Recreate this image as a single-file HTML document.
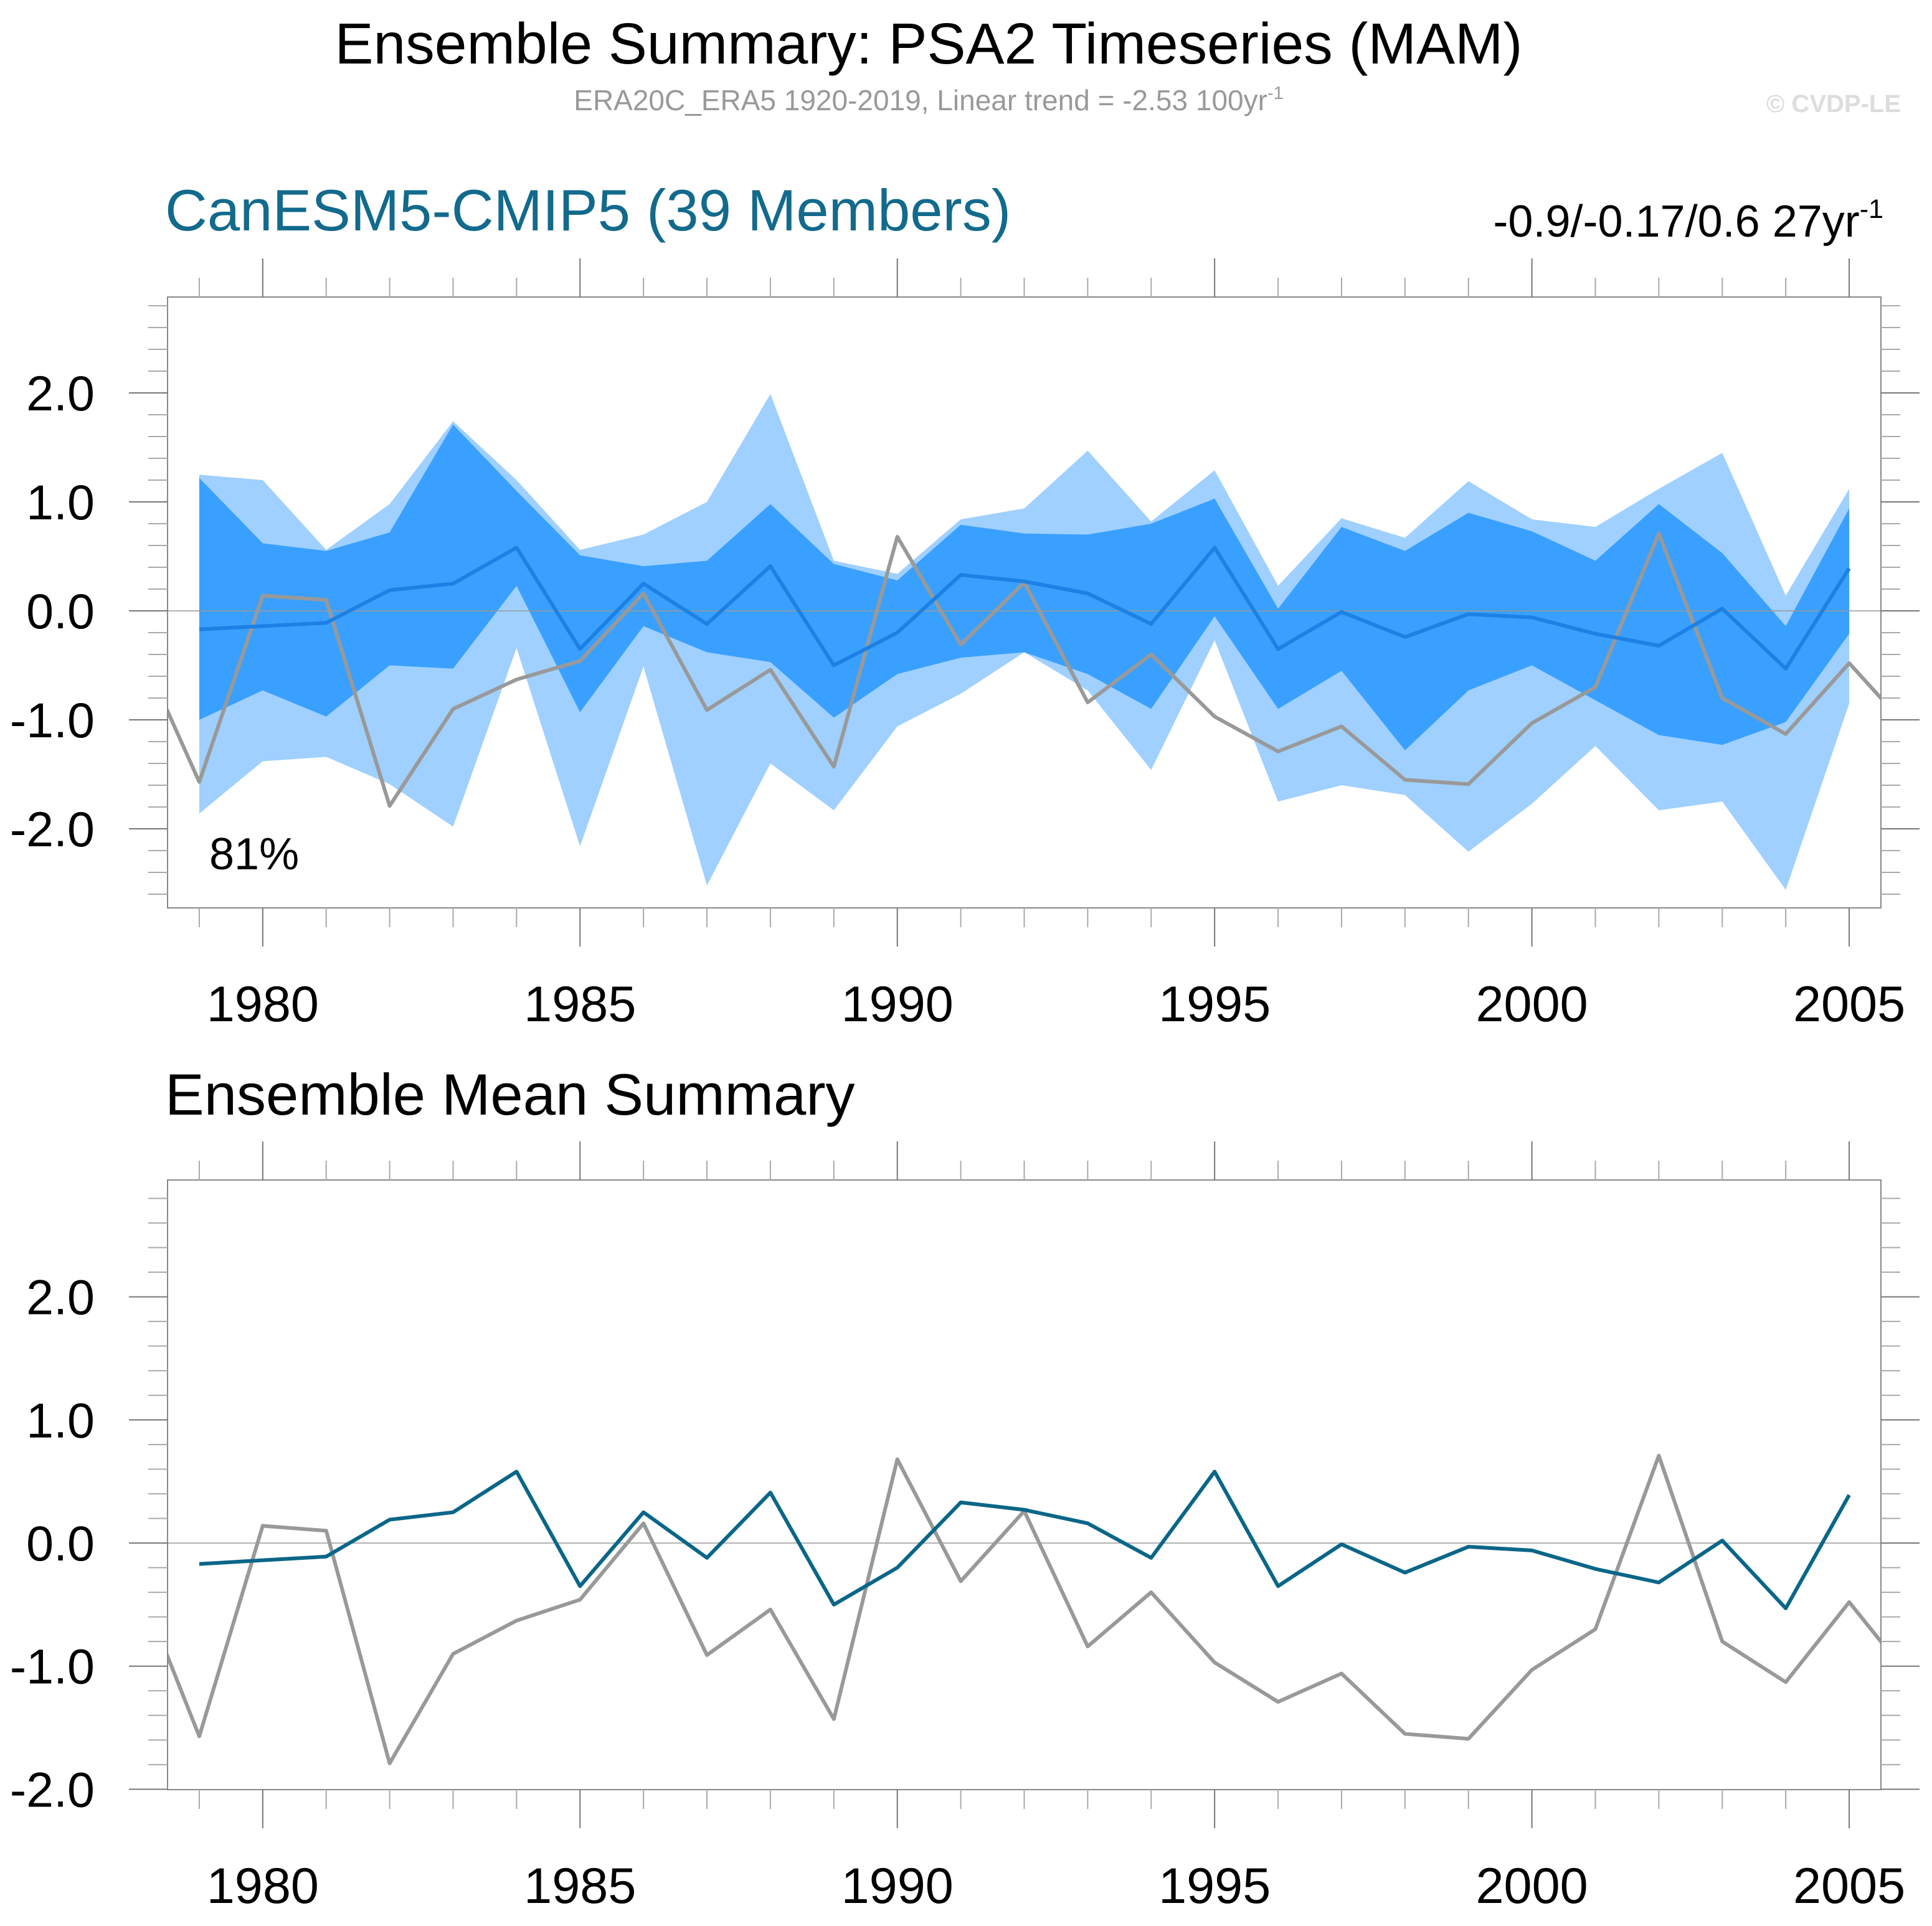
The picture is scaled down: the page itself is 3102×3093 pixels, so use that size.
<!DOCTYPE html>
<html><head><meta charset="utf-8"><style>
html,body{margin:0;padding:0;background:#fff;}
svg{display:block;font-family:"Liberation Sans",Arial,sans-serif;}
</style></head><body>
<svg id="chart" width="3102" height="3093" viewBox="0 0 3102 3093" xmlns="http://www.w3.org/2000/svg">
<text x="1491" y="102" font-size="93" text-anchor="middle" fill="#000">Ensemble Summary: PSA2 Timeseries (MAM)</text>
<text x="1491" y="177" font-size="46" text-anchor="middle" fill="#999">ERA20C_ERA5 1920-2019, Linear trend = -2.53 100yr<tspan dy="-18" font-size="29">-1</tspan></text>
<text x="3052" y="180" font-size="40" font-weight="bold" text-anchor="end" fill="#ddd">© CVDP-LE</text>
<text x="265" y="370" font-size="94" fill="#126a8c">CanESM5-CMIP5 (39 Members)</text>
<text x="3024" y="380" font-size="72" text-anchor="end" fill="#000">-0.9/-0.17/0.6 27yr<tspan dy="-30" font-size="43">-1</tspan></text>
<text x="265" y="1790" font-size="94" fill="#000">Ensemble Mean Summary</text>
<g id="top"></g><g id="bot"></g>
</svg>
<script>
const years=[1979,1980,1981,1982,1983,1984,1985,1986,1987,1988,1989,1990,1991,1992,1993,1994,1995,1996,1997,1998,1999,2000,2001,2002,2003,2004,2005];
const ensMean=[-0.17,-0.14,-0.11,0.19,0.25,0.58,-0.35,0.25,-0.12,0.41,-0.5,-0.2,0.33,0.27,0.16,-0.12,0.58,-0.35,-0.01,-0.24,-0.03,-0.06,-0.21,-0.32,0.02,-0.53,0.39];
const obsYears=[1978,1979,1980,1981,1982,1983,1984,1985,1986,1987,1988,1989,1990,1991,1992,1993,1994,1995,1996,1997,1998,1999,2000,2001,2002,2003,2004,2005,2006];
const obs=[-0.27,-1.57,0.14,0.1,-1.79,-0.9,-0.63,-0.46,0.16,-0.91,-0.54,-1.43,0.68,-0.31,0.26,-0.84,-0.4,-0.97,-1.29,-1.06,-1.55,-1.59,-1.03,-0.7,0.71,-0.8,-1.13,-0.48,-1.12];
const outerUpper=[1.25,1.2,0.56,0.98,1.74,1.2,0.56,0.7,1.0,1.99,0.46,0.34,0.84,0.94,1.47,0.82,1.29,0.23,0.85,0.67,1.19,0.84,0.77,1.12,1.45,0.14,1.12];
const innerUpper=[1.22,0.62,0.55,0.72,1.71,1.1,0.51,0.41,0.46,0.98,0.43,0.28,0.79,0.71,0.7,0.8,1.03,0.02,0.77,0.55,0.9,0.73,0.46,0.98,0.53,-0.14,0.94];
const innerLower=[-1.0,-0.73,-0.97,-0.5,-0.53,0.23,-0.93,-0.14,-0.38,-0.47,-0.98,-0.58,-0.43,-0.38,-0.58,-0.9,-0.05,-0.9,-0.55,-1.28,-0.73,-0.5,-0.82,-1.14,-1.23,-1.02,-0.21];
const outerLower=[-1.86,-1.38,-1.34,-1.59,-1.98,-0.34,-2.16,-0.51,-2.52,-1.4,-1.83,-1.06,-0.76,-0.38,-0.73,-1.46,-0.27,-1.75,-1.6,-1.69,-2.21,-1.77,-1.24,-1.83,-1.75,-2.56,-0.85];
const yTicks=[-2,-1,0,1,2];
const xTicks=[1980,1985,1990,1995,2000,2005];

const NS='http://www.w3.org/2000/svg';
function mk(parent,tag,attrs){const e=document.createElementNS(NS,tag);for(const k in attrs)e.setAttribute(k,attrs[k]);parent.appendChild(e);return e;}
const L=269,R=3020,X0=1978.5,X1=2005.5;
const xs=v=>L+(v-X0)/(X1-X0)*(R-L);

function panel(g,top,bottom,y0px,pxPer,ymin,ymax,band,lineColor,clipId){
  const ys=v=>y0px-v*pxPer;
  const defs=mk(g,'defs',{});
  const cp=mk(defs,'clipPath',{id:clipId});
  mk(cp,'rect',{x:L,y:top,width:R-L,height:bottom-top});
  const plot=mk(g,'g',{'clip-path':'url(#'+clipId+')'});
  if(band){
    const poly=(up,lo,col,name)=>{
      let pts=years.map((y,i)=>xs(y)+','+ys(up[i]));
      for(let i=years.length-1;i>=0;i--)pts.push(xs(years[i])+','+ys(lo[i]));
      const p=mk(plot,'polygon',{points:pts.join(' '),fill:col});
      
      
    };
    poly(outerUpper,outerLower,'#9fd0ff','outer-range-band');
    poly(innerUpper,innerLower,'#3aa0ff','inner-range-band');
  }
  const zl=mk(plot,'line',{x1:L,x2:R,y1:ys(0),y2:ys(0),stroke:'#999','stroke-width':1.5});
  
  
  const ob=mk(plot,'polyline',{points:obsYears.map((y,i)=>xs(y)+','+ys(obs[i])).join(' '),fill:'none',stroke:'#999','stroke-width':6,'stroke-linejoin':'round'});
  
  
  const em=mk(plot,'polyline',{points:years.map((y,i)=>xs(y)+','+ys(ensMean[i])).join(' '),fill:'none',stroke:lineColor,'stroke-width':6,'stroke-linejoin':'round'});
  
  
  const fr=mk(g,'rect',{x:L,y:top,width:R-L,height:bottom-top,fill:'none',stroke:'#888','stroke-width':2});
  
  
  for(let k=Math.ceil(ymin*5);k<=Math.floor(ymax*5);k++){
    const v=k/5,y=ys(v),major=(k%5===0),len=major?62:31;
    mk(g,'line',{x1:L-len,x2:L,y1:y,y2:y,stroke:major?'#777':'#aaa','stroke-width':2});
    mk(g,'line',{x1:R,x2:R+len,y1:y,y2:y,stroke:major?'#777':'#aaa','stroke-width':2});
  }
  yTicks.forEach(v=>{
    if(v<ymin-0.01||v>ymax)return;
    const t=mk(g,'text',{x:152,y:ys(v)+28,'font-size':79,'text-anchor':'end',fill:'#000'});
    t.textContent=v.toFixed(1);
    
    
  });
  for(let yr=1979;yr<=2005;yr++){
    const x=xs(yr),major=(yr%5===0),len=major?62:31;
    mk(g,'line',{x1:x,x2:x,y1:top-len,y2:top,stroke:major?'#777':'#aaa','stroke-width':2});
    mk(g,'line',{x1:x,x2:x,y1:bottom,y2:bottom+len,stroke:major?'#777':'#aaa','stroke-width':2});
  }
  xTicks.forEach(v=>{
    const t=mk(g,'text',{x:xs(v),y:bottom+182,'font-size':81,'text-anchor':'middle',fill:'#000'});
    t.textContent=String(v);
    
    
  });
}
panel(document.getElementById('top'),477,1458,981,175,-2.73,2.88,true,'#1c80e4','c1');
panel(document.getElementById('bot'),1895,2874,2478,197.7,-2.0,2.97,false,'#0a6688','c2');
const pct=mk(document.getElementById('top'),'text',{x:336,y:1396,'font-size':72,fill:'#000'});
pct.textContent='81%';


</script>
</body></html>
